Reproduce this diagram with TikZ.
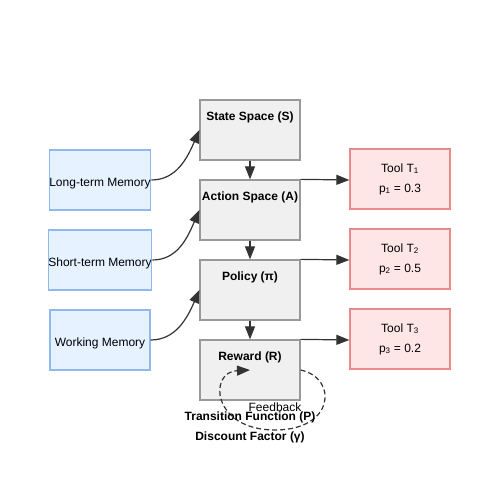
\documentclass[tikz,border=0pt]{standalone}
\usepackage{fontspec}
\setmainfont{Liberation Sans}
\usetikzlibrary{arrows.meta}
\definecolor{memfill}{HTML}{E6F2FF}
\definecolor{memline}{HTML}{8FB8EC}
\definecolor{corefill}{HTML}{F0F0F0}
\definecolor{coreline}{HTML}{999999}
\definecolor{toolfill}{HTML}{FFE6E6}
\definecolor{toolline}{HTML}{EB8A8A}
\definecolor{ink}{HTML}{333333}
\begin{document}
\begin{tikzpicture}[x=1pt,y=-1pt,font=\fontsize{12}{14}\selectfont,
	box/.style={rectangle, line width=1.3pt, minimum width=100pt, minimum height=60pt, inner sep=0pt},
	mem/.style={box, draw=memline, fill=memfill, text height=12pt, text depth=0pt},
	core/.style={box, draw=coreline, fill=corefill},
	tool/.style={box, draw=toolline, fill=toolfill, align=center},
	title/.style={anchor=center, yshift=-18.5pt, font=\fontsize{12}{14}\selectfont\bfseries},
	link/.style={draw=ink, line width=1.2pt, -{Triangle[length=13pt,width=10pt]}}]
	\useasboundingbox (0,0) rectangle (500,500);
	\node (LTM) at (100,180)	[mem]	{Long-term Memory};
	\node (STM) at (100,260)	[mem]	{Short-term Memory};
	\node (WM)  at (100,340)	[mem]	{Working Memory};
	\node (S) at (250,130)	[core, label={[title]north:State Space (S)}]	{};
	\node (A) at (250,210)	[core, label={[title]north:Action Space (A)}]	{};
	\node (P) at (250,290)	[core, label={[title]north:Policy (π)}]	{};
	\node (R) at (250,370)	[core, label={[title]north:Reward (R)}]	{};
	\node (T1) at (400,179)	[tool]	{Tool T\textsubscript{1}\\[6pt] p\textsubscript{1} = 0.3};
	\node (T2) at (400,259)	[tool]	{Tool T\textsubscript{2}\\[6pt] p\textsubscript{2} = 0.5};
	\node (T3) at (400,339)	[tool]	{Tool T\textsubscript{3}\\[6pt] p\textsubscript{3} = 0.2};
	\path (T1.west) ++(0,1) coordinate (T1in);
	\path (T2.west) ++(0,1) coordinate (T2in);
	\path (T3.west) ++(0,1) coordinate (T3in);
	% memory into the core
	\draw[link] (LTM.east) .. controls +(25,0) and +(-12,28) .. (S.west);
	\draw[link] (STM.east) .. controls +(25,0) and +(-12,28) .. (A.west);
	\draw[link] (WM.east) .. controls +(25,0) and +(-12,28) .. (P.west);
	% core chain
	\draw[link] (S) -- (A);
	\draw[link] (A) -- (P);
	\draw[link] (P) -- (R);
	% actions to tools
	\draw[link] (A.north east) -- (T1in);
	\draw[link] (P.north east) -- (T2in);
	\draw[link] (R.north east) -- (T3in);
	% feedback loop
	\draw[link, dash pattern=on 5pt off 3pt] (R.east) .. controls (338,378) and (335,430) .. (275,430) .. controls (212,430) and (208,372) .. (R.center);
	\node (FB) at (275,407)	{Feedback};
	\node (TF) at (250,417)	[font=\fontsize{12}{14}\selectfont\bfseries]	{Transition Function (P)};
	\node (DF) at (250,437)	[font=\fontsize{12}{14}\selectfont\bfseries]	{Discount Factor (γ)};
\end{tikzpicture}
\end{document}
